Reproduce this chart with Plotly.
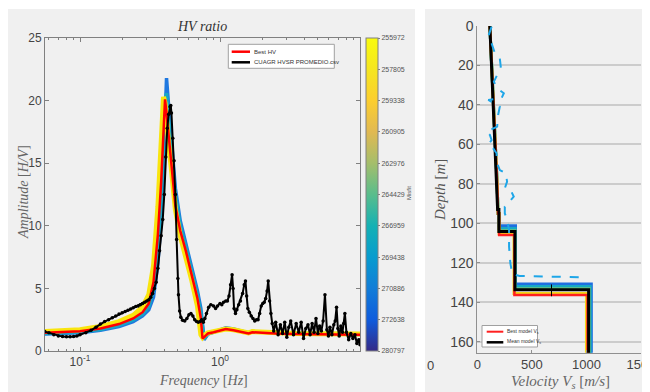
import plotly.graph_objects as go

# ---------------- HV ratio (left) ----------------
model_freq = [0.056, 0.08, 0.1, 0.14, 0.19, 0.24, 0.28, 0.31, 0.335, 0.36, 0.38, 0.395, 0.405,
              0.415, 0.43, 0.45, 0.48, 0.52, 0.57, 0.63, 0.69, 0.73, 0.75, 0.77, 0.82, 0.9, 1.0,
              1.1, 1.25, 1.45, 1.6, 1.7, 2.0, 2.5, 3.5, 5, 7, 10]
best_hv = [1.45, 1.5, 1.58, 1.8, 2.15, 2.6, 3.1, 3.8, 5.5, 9.3, 13.5, 17.5, 20.1,
           19.0, 17.2, 15.2, 11.6, 9.6, 8.0, 6.0, 4.2, 2.6, 1.0, 1.1, 1.4, 1.5, 1.6,
           1.75, 1.65, 1.5, 1.4, 1.5, 1.45, 1.4, 1.35, 1.32, 1.3, 1.3]
hv_low_misfit = [1.55, 1.6, 1.7, 1.95, 2.35, 2.85, 3.5, 4.5, 6.8, 11.5, 16.5, 20.3, 19.8,
                 18.2, 16.5, 14.5, 11.3, 9.2, 7.6, 5.6, 3.6, 1.3, 1.1, 1.25, 1.45, 1.55, 1.65,
                 1.75, 1.7, 1.55, 1.45, 1.55, 1.5, 1.45, 1.4, 1.38, 1.35, 1.35]
hv_mid_misfit = [1.4, 1.45, 1.52, 1.72, 2.05, 2.48, 2.95, 3.55, 4.9, 8.1, 12.0, 16.3, 20.0,
                 20.6, 18.4, 15.9, 12.5, 10.0, 8.3, 6.3, 4.5, 3.0, 1.8, 0.95, 1.38, 1.5, 1.65,
                 1.8, 1.72, 1.55, 1.45, 1.55, 1.5, 1.45, 1.4, 1.35, 1.33, 1.33]
hv_high_misfit = [1.35, 1.4, 1.45, 1.65, 1.95, 2.35, 2.8, 3.3, 4.3, 7.0, 10.5, 15.0, 19.0,
                  21.8, 19.5, 16.5, 13.0, 10.4, 8.6, 6.6, 4.8, 3.4, 2.4, 0.9, 1.35, 1.5, 1.7,
                  1.85, 1.75, 1.55, 1.45, 1.55, 1.5, 1.45, 1.4, 1.35, 1.32, 1.32]

obs_freq = [0.056, 0.06, 0.065, 0.07, 0.075, 0.08, 0.085, 0.09, 0.095, 0.1,
            0.11, 0.12, 0.13, 0.14, 0.15, 0.16, 0.17, 0.18, 0.19, 0.2,
            0.21, 0.22, 0.23, 0.24, 0.25, 0.26, 0.27, 0.28, 0.29, 0.3,
            0.31, 0.32, 0.33, 0.34, 0.35, 0.36, 0.37, 0.38, 0.39, 0.4,
            0.41, 0.42, 0.43, 0.44, 0.445, 0.45, 0.46, 0.47, 0.48, 0.49,
            0.5, 0.505, 0.515, 0.525, 0.54, 0.56, 0.58, 0.6, 0.62, 0.64,
            0.66, 0.68, 0.7, 0.72, 0.74, 0.76, 0.78, 0.8, 0.83, 0.86,
            0.9, 0.93, 0.96, 1.0, 1.03, 1.06, 1.1, 1.13, 1.16, 1.19,
            1.22, 1.24, 1.26, 1.29, 1.32, 1.36, 1.4, 1.45, 1.49, 1.52,
            1.55, 1.58, 1.62, 1.67, 1.72, 1.77, 1.82, 1.87, 1.92, 1.97,
            2.02, 2.07, 2.12, 2.17, 2.21, 2.26, 2.31, 2.36, 2.42, 2.5,
            2.6, 2.7, 2.8, 2.9, 3.0, 3.1, 3.2, 3.35, 3.5, 3.65,
            3.8, 3.95, 4.1, 4.25, 4.4, 4.55, 4.7, 4.85, 5.0, 5.15,
            5.3, 5.45, 5.62, 5.8, 5.95, 6.1, 6.3, 6.5, 6.65, 6.8,
            6.95, 7.1, 7.3, 7.5, 7.65, 7.8, 8.0, 8.3, 8.6, 8.9,
            9.2, 9.5, 9.8, 10.0]
obs_amp = [1.55, 1.45, 1.3, 1.2, 1.15, 1.13, 1.13, 1.15, 1.2, 1.3,
           1.45, 1.65, 1.9, 2.15, 2.35, 2.5, 2.65, 2.8, 2.95, 3.05,
           3.15, 3.25, 3.35, 3.45, 3.55, 3.6, 3.7, 3.8, 3.9, 4.0,
           4.1, 4.3, 4.6, 5.0, 5.5, 6.6, 8.0, 9.2, 10.5, 12.5,
           15.5, 17.8, 18.9, 19.5, 19.6, 19.0, 17.0, 15.2, 12.5, 8.9,
           5.8, 4.5, 3.2, 2.7, 2.45, 2.4, 2.6, 2.9, 3.0, 2.8,
           2.5, 2.35, 2.3, 2.35, 2.5, 2.3, 2.6, 3.0, 3.5, 3.7,
           3.6, 3.4, 3.6, 3.8, 3.7, 3.9, 4.0, 4.0, 4.4, 5.3,
           6.1, 5.0, 3.4, 3.0, 3.3, 3.7, 4.0, 4.6, 5.3, 5.6,
           4.4, 3.4, 3.1, 2.8, 2.6, 2.4, 2.5, 2.5, 3.0, 3.6,
           3.8, 3.9, 4.2, 4.8, 5.6, 4.0, 3.0, 2.2, 1.6, 2.3,
           1.3, 2.1, 1.4, 2.3, 1.1, 1.9, 2.4, 1.3, 2.2, 1.5,
           2.3, 1.0, 1.8, 2.1, 1.3, 2.2, 1.5, 2.6, 1.4, 2.0,
           1.6, 2.4, 4.5, 1.7, 1.2, 1.9, 1.3, 2.1, 2.4, 3.5,
           1.8, 1.2, 2.0, 1.5, 2.2, 3.0, 1.5, 0.9, 1.4, 1.0,
           1.3, 0.6, 0.9, 0.5]
assert len(obs_freq) == len(obs_amp)

misfit_labels = ["255972", "257805", "259338", "260905", "262976", "264429",
                 "266959", "269438", "270886", "272638", "280797"]

# ---------------- Vs profiles (right) ----------------
mean_vel = [115, 123, 132, 142, 150, 158, 166, 174, 182, 186, 198, 198, 345, 345, 1020, 1020]
mean_depth = [0, 10, 20, 30, 40, 50, 60, 70, 80, 93, 93, 104.2, 104.2, 133.7, 133.7, 175]

best_vel = [115, 150, 182, 190, 200, 200, 340, 340, 1010, 1010]
best_depth = [0, 40, 80, 95, 95, 106.0, 106.0, 136.4, 136.4, 175]

prof_blue_vel = [115, 150, 182, 190, 200, 200, 350, 350, 1045, 1045]
prof_blue_depth = [0, 40, 80, 95, 95, 101.3, 101.3, 130.8, 130.8, 175]
prof_cyan_vel = [115, 150, 182, 190, 200, 200, 348, 348, 1035, 1035]
prof_cyan_depth = [0, 40, 80, 95, 95, 102.6, 102.6, 132.0, 132.0, 175]
prof_green_vel = [115, 150, 182, 190, 200, 200, 346, 346, 1026, 1026]
prof_green_depth = [0, 40, 80, 95, 95, 103.6, 103.6, 133.0, 133.0, 175]
prof_yellow_vel = [115, 150, 182, 190, 200, 200, 336, 336, 1000, 1000]
prof_yellow_depth = [0, 40, 80, 95, 95, 105.3, 105.3, 135.6, 135.6, 175]

dash_vel = [131, 100, 131, 161, 206, 215, 182, 152, 182, 243, 222, 100, 161, 206, 191,
            182, 85, 115, 131, 100, 145, 176, 182, 206, 261, 273, 252, 313, 334, 297,
            252, 252, 273, 291, 291, 303, 321, 388, 691, 964]
dash_depth = [0.3, 5.4, 8.8, 13.8, 16.4, 20.6, 24.8, 28.2, 31.6, 34.1, 36.6, 37.5, 39.2,
              40.9, 45.1, 51.0, 53.6, 55.2, 57.8, 60.3, 62.0, 64.5, 69.6, 73.0, 74.7, 78.9,
              82.3, 84.0, 86.5, 89.0, 91.6, 94.9, 98.3, 103.4, 111.9, 120.3, 125.7, 126.7,
              127.0, 127.4]
err_vel = [680, 680]
err_depth = [131.0, 137.0]

parula = [[0.0, "#352a87"], [0.1, "#0f5cdd"], [0.2, "#127dd8"], [0.3, "#079ccf"],
          [0.4, "#15b1b4"], [0.5, "#59bd8c"], [0.6, "#a5be6b"], [0.7, "#e1b952"],
          [0.8, "#fcce2e"], [0.9, "#f5e61f"], [1.0, "#f9fb0e"]]

# the page body has an 8px margin: figure is 642x384 placed at (8,8) of the 650x392 window
OFF = 8
W, H = 650 - OFF, 392 - OFF
def px(x): return (x - OFF) / W
def py(y): return (392 - y) / H

fig = go.Figure()

# model HV curves (ensemble coloured by misfit)
fig.add_trace(go.Scatter(x=model_freq, y=hv_high_misfit, mode="lines", xaxis="x", yaxis="y",
                         line=dict(color="#1f78e0", width=3.5), showlegend=False, hoverinfo="skip"))
fig.add_trace(go.Scatter(x=model_freq, y=hv_mid_misfit, mode="lines", xaxis="x", yaxis="y",
                         line=dict(color="#17a8c4", width=3.5), showlegend=False, hoverinfo="skip"))
fig.add_trace(go.Scatter(x=model_freq, y=hv_low_misfit, mode="lines", xaxis="x", yaxis="y",
                         line=dict(color="#f9e50e", width=5), showlegend=False, hoverinfo="skip"))
fig.add_trace(go.Scatter(x=model_freq, y=best_hv, mode="lines", xaxis="x", yaxis="y",
                         name="Best HV", showlegend=False,
                         line=dict(color="#ff0000", width=2.5)))
fig.add_trace(go.Scatter(x=obs_freq, y=obs_amp, mode="lines+markers", xaxis="x", yaxis="y",
                         name="CUAGR HVSR PROMEDIO.csv", showlegend=False,
                         line=dict(color="black", width=2),
                         marker=dict(color="black", size=3.5)))
# colorbar carrier
fig.add_trace(go.Scatter(x=[None], y=[None], mode="markers", xaxis="x", yaxis="y",
                         showlegend=False, hoverinfo="skip",
                         marker=dict(color=[0], cmin=0, cmax=10, colorscale=parula, showscale=True,
                                     colorbar=dict(x=px(366), xanchor="left", xpad=0, ypad=0,
                                                   y=py(351), yanchor="bottom", len=313 / H,
                                                   thickness=12, outlinecolor="#808080",
                                                   outlinewidth=1,
                                                   tickvals=list(range(10, -1, -1)),
                                                   ticktext=misfit_labels,
                                                   ticks="outside", ticklen=2,
                                                   tickcolor="#808080",
                                                   tickfont=dict(size=7, color="#555",
                                                                 family="Liberation Sans Narrow, Liberation Sans")))))

# Vs profiles
for v, d, c in [(prof_blue_vel, prof_blue_depth, "#1f6fe0"),
                (prof_cyan_vel, prof_cyan_depth, "#17a8c4"),
                (prof_green_vel, prof_green_depth, "#59bd8c"),
                (prof_yellow_vel, prof_yellow_depth, "#f2d81a")]:
    fig.add_trace(go.Scatter(x=v, y=d, mode="lines", xaxis="x2", yaxis="y2",
                             line=dict(color=c, width=3), showlegend=False, hoverinfo="skip"))
fig.add_trace(go.Scatter(x=best_vel, y=best_depth, mode="lines", xaxis="x2", yaxis="y2",
                         name="Best model Vs", showlegend=False,
                         line=dict(color="#ff2020", width=2.5)))
fig.add_trace(go.Scatter(x=mean_vel, y=mean_depth, mode="lines", xaxis="x2", yaxis="y2",
                         name="Mean model Vs", showlegend=False,
                         line=dict(color="black", width=3)))
fig.add_trace(go.Scatter(x=dash_vel, y=dash_depth, mode="lines", xaxis="x2", yaxis="y2",
                         line=dict(color="#1ea6e8", width=2, dash="dash"),
                         showlegend=False, hoverinfo="skip"))
fig.add_trace(go.Scatter(x=err_vel, y=err_depth, mode="lines", xaxis="x2", yaxis="y2",
                         line=dict(color="black", width=1), showlegend=False, hoverinfo="skip"))

tickfont_l = dict(family="Liberation Sans Narrow, Liberation Sans, Arial", size=12, color="#444")
tickfont_r = dict(family="Liberation Sans, Arial", size=14, color="#444")
tickfont_rx = dict(family="Liberation Sans, Arial", size=13, color="#444")
serif = "Liberation Serif, DejaVu Serif, serif"
legfont = "Liberation Sans Narrow, Liberation Sans, Arial"

minor_vals = [0.06, 0.07, 0.08, 0.09, 0.2, 0.3, 0.4, 0.5, 0.6, 0.7, 0.8, 0.9,
              2, 3, 4, 5, 6, 7, 8, 9]

def pline(x0, x1, y, color, width):
    return dict(type="line", xref="paper", yref="paper", x0=px(x0), x1=px(x1),
                y0=py(y), y1=py(y), line=dict(color=color, width=width), layer="above")

def prect(x0, x1, y0, y1, fill, lc, lw):
    return dict(type="rect", xref="paper", yref="paper", x0=px(x0), x1=px(x1),
                y0=py(y1), y1=py(y0), fillcolor=fill, line=dict(color=lc, width=lw))

shapes = [
    dict(prect(0, 415, 9, 392, "#f0f0f0", "#f0f0f0", 0), layer="below"),
    dict(prect(425, 650, 9, 392, "#f0f0f0", "#f0f0f0", 0), layer="below"),
    # legend (left)
    dict(prect(228.3, 334.3, 44.3, 68.3, "white", "#a0a0a0", 1), layer="above"),
    pline(231.7, 250, 51.7, "#ff0000", 2.5),
    pline(231.7, 250, 62.3, "black", 2.5),
    # legend (right)
    dict(prect(482, 537.5, 325.5, 347, "white", "#a0a0a0", 1), layer="above"),
    pline(486.7, 503.3, 331.7, "#ff2020", 2),
    pline(486.7, 503.3, 342.3, "black", 2.5),
]

def ann(text, x, y, size, color="#444", family=None, angle=0, xanchor="center"):
    f = dict(size=size, color=color)
    if family:
        f["family"] = family
    return dict(text=text, x=px(x), y=py(y), xref="paper", yref="paper", showarrow=False,
                textangle=angle, xanchor=xanchor, yanchor="middle", font=f)

annotations = [
    ann("<i>HV ratio</i>", 202, 27, 14, "#333", serif),
    ann("<i>Frequency</i> [<i>Hz</i>]", 203, 380, 14, "#666", serif),
    ann("<i>Amplitude</i> [<i>H/V</i>]", 23, 192, 14, "#666", serif, -90),
    ann("Misfit", 409, 193, 6, "#555", legfont, -90),
    ann("<i>Depth</i> [<i>m</i>]", 440, 190, 15, "#555", serif, -90),
    ann("<i>Velocity V<sub>s</sub></i> [<i>m/s</i>]", 560, 382, 15, "#666", serif),
    ann("0", 430, 365, 13, "#444", "Liberation Sans, Arial"),
    ann("Best HV", 252, 51.7, 6, "#333", legfont, xanchor="left"),
    ann("CUAGR HVSR PROMEDIO.csv", 252, 62.3, 6, "#333", legfont, xanchor="left"),
    ann("Best model V<sub>s</sub>", 504.5, 331.2, 5, "#333", legfont, xanchor="left"),
    ann("Mean model V<sub>s</sub>", 504.5, 341.8, 5, "#333", legfont, xanchor="left"),
]

fig.update_layout(
    width=W, height=H, margin=dict(l=0, r=0, t=0, b=0, autoexpand=False),
    paper_bgcolor="white", plot_bgcolor="white", showlegend=False,
    xaxis=dict(type="log", domain=[px(45), px(360)], range=[-1.25, 1.0], anchor="y",
               automargin=False,
               tickvals=[0.1, 1], ticktext=["10<sup>-1</sup>", "10<sup>0</sup>"],
               ticks="inside", ticklen=4, tickcolor="#808080",
               minor=dict(tickvals=minor_vals, ticks="inside", ticklen=2, tickcolor="#808080"),
               showline=True, linecolor="#808080", linewidth=1, mirror="ticks",
               showgrid=False, zeroline=False, tickfont=tickfont_l),
    yaxis=dict(domain=[py(351), py(38)], range=[0, 25], anchor="x", automargin=False,
               tickvals=[0, 5, 10, 15, 20, 25], ticks="inside", ticklen=4, tickcolor="#808080",
               showline=True, linecolor="#808080", linewidth=1, mirror="ticks",
               showgrid=False, zeroline=False, tickfont=tickfont_l),
    xaxis2=dict(domain=[px(477.3), px(641)], range=[0, 1500], anchor="y2", automargin=False,
                tickvals=[0, 500, 1000, 1500], ticks="inside", ticklen=3, tickcolor="#909090",
                ticklabeloverflow="allow",
                showline=True, linecolor="#909090", linewidth=1,
                showgrid=False, zeroline=False, tickfont=tickfont_rx),
    yaxis2=dict(domain=[py(352.7), py(26)], range=[165.6, 0], anchor="x2", automargin=False,
                tickvals=[0, 20, 40, 60, 80, 100, 120, 140, 160], ticks="inside", ticklen=3,
                tickcolor="#909090", showline=True, linecolor="#909090", linewidth=1,
                showgrid=True, gridcolor="#cccccc", gridwidth=1.5, zeroline=False,
                tickfont=tickfont_r),
    shapes=shapes,
    annotations=annotations,
)

fig.write_html("out.html")
